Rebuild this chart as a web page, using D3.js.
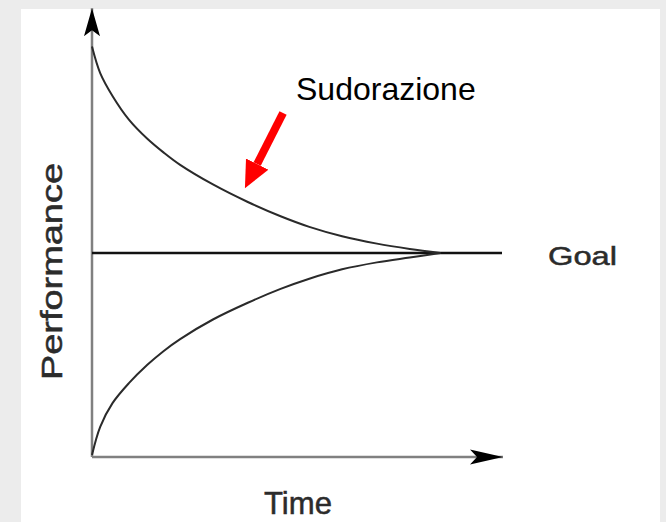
<!DOCTYPE html>
<html>
<head>
<meta charset="utf-8">
<script src="https://cdn.jsdelivr.net/npm/d3@7"></script>
<style>
  html, body { margin: 0; padding: 0; background: #ececec; }
  svg { display: block; font-family: "Liberation Sans", Arial, sans-serif; }
</style>
</head>
<body>
<div id="chart"></div>
<script>
// time steps shared by both curves
const timeSteps = [0, 0.2, 0.5, 0.9, 1.35, 1.75, 2.15, 2.95, 3.8, 4.6, 5.3, 6.1, 6.95, 7.75, 8.5];
// performance from above (sweating) and from below
const upperPerf = [10.06, 9.41, 8.85, 8.27, 7.80, 7.46, 7.16, 6.68, 6.25, 5.90, 5.64, 5.41, 5.23, 5.10, 5.0];
const lowerPerf = [0.05, 0.74, 1.32, 1.81, 2.26, 2.60, 2.89, 3.37, 3.78, 4.12, 4.37, 4.60, 4.77, 4.89, 5.0];
const goalValue = 5;
const timeMax = 10;
const perfMax = 11;
// annotation arrow: [time, performance] tail and tip
const noteTail = [4.66, 8.43];
const noteTip = [3.73, 6.59];
const noteLabel = "Sudorazione";

const width = 666;
const height = 522;

const svg = d3.select("#chart")
  .append("svg")
  .attr("width", width)
  .attr("height", height);

// light frame with white panel
svg.append("rect").attr("width", width).attr("height", height).attr("fill", "#ececec");
svg.append("rect").attr("x", 21).attr("y", 9).attr("width", 639).attr("height", height - 9).attr("fill", "#fff");

const x = d3.scaleLinear().domain([0, 10]).range([92, 502]);
const y = d3.scaleLinear().domain([0, 10]).range([457, 49]);

const defs = svg.append("defs");
defs.append("marker")
  .attr("id", "arrY")
  .attr("markerUnits", "userSpaceOnUse")
  .attr("viewBox", "0 -9 29 18")
  .attr("markerWidth", 29).attr("markerHeight", 18)
  .attr("refX", 28).attr("refY", 0)
  .attr("orient", "auto")
  .append("path").attr("d", "M0,-8L28,0L0,8L6,0Z").attr("fill", "#000");
defs.append("marker")
  .attr("id", "arrX")
  .attr("markerUnits", "userSpaceOnUse")
  .attr("viewBox", "0 -9 34 18")
  .attr("markerWidth", 34).attr("markerHeight", 18)
  .attr("refX", 33).attr("refY", 0)
  .attr("orient", "auto")
  .append("path").attr("d", "M0,-7.5L33,0L0,7.5L7,0Z").attr("fill", "#000");
defs.append("marker")
  .attr("id", "arrRed")
  .attr("markerUnits", "userSpaceOnUse")
  .attr("viewBox", "0 -13 28 26")
  .attr("markerWidth", 28).attr("markerHeight", 26)
  .attr("refX", 0).attr("refY", 0)
  .attr("orient", "auto")
  .append("path").attr("d", "M0,-12.5L27,0L0,12.5Z").attr("fill", "#ff0000");

// axes
svg.append("line")
  .attr("x1", x(0)).attr("y1", y(0))
  .attr("x2", x(0)).attr("y2", y(perfMax))
  .attr("stroke", "#808080").attr("stroke-width", 2.5)
  .attr("marker-end", "url(#arrY)");
svg.append("line")
  .attr("x1", x(0)).attr("y1", y(0))
  .attr("x2", x(timeMax) + 1).attr("y2", y(0))
  .attr("stroke", "#808080").attr("stroke-width", 2.5)
  .attr("marker-end", "url(#arrX)");

// goal line
svg.append("line")
  .attr("x1", x(0)).attr("y1", y(goalValue))
  .attr("x2", x(timeMax)).attr("y2", y(goalValue))
  .attr("stroke", "#111").attr("stroke-width", 2.5);

const line = d3.line()
  .x(d => x(d[0]))
  .y(d => y(d[1]))
  .curve(d3.curveCatmullRom.alpha(0.5));

[upperPerf, lowerPerf].forEach(series => {
  svg.append("path")
    .datum(timeSteps.map((t, i) => [t, series[i]]))
    .attr("fill", "none")
    .attr("stroke", "#2a2a2a")
    .attr("stroke-width", 2)
    .attr("d", line);
});

// red annotation arrow
const tx = x(noteTail[0]), ty = y(noteTail[1]);
const hx = x(noteTip[0]), hy = y(noteTip[1]);
const len = Math.hypot(hx - tx, hy - ty);
const k = (len - 27) / len;
svg.append("line")
  .attr("x1", tx).attr("y1", ty)
  .attr("x2", tx + (hx - tx) * k).attr("y2", ty + (hy - ty) * k)
  .attr("stroke", "#ff0000").attr("stroke-width", 8)
  .attr("marker-end", "url(#arrRed)");

svg.append("text")
  .attr("x", 296).attr("y", 100)
  .attr("font-size", 32)
  .attr("fill", "#000")
  .text(noteLabel);

const grayText = (sel) => sel
  .attr("fill", "#2b2b2b")
  .attr("stroke", "#2b2b2b")
  .attr("stroke-width", 0.5)
  .attr("lengthAdjust", "spacingAndGlyphs");

svg.append("text")
  .attr("x", 548).attr("y", 265)
  .attr("font-size", 26)
  .attr("textLength", 69)
  .call(grayText)
  .text("Goal");

svg.append("text")
  .attr("x", 264).attr("y", 514)
  .attr("font-size", 32)
  .attr("textLength", 68)
  .call(grayText)
  .text("Time");

svg.append("text")
  .attr("transform", "translate(62,271.5) rotate(-90)")
  .attr("text-anchor", "middle")
  .attr("font-size", 30)
  .attr("textLength", 217)
  .call(grayText)
  .text("Performance");
</script>
</body>
</html>
